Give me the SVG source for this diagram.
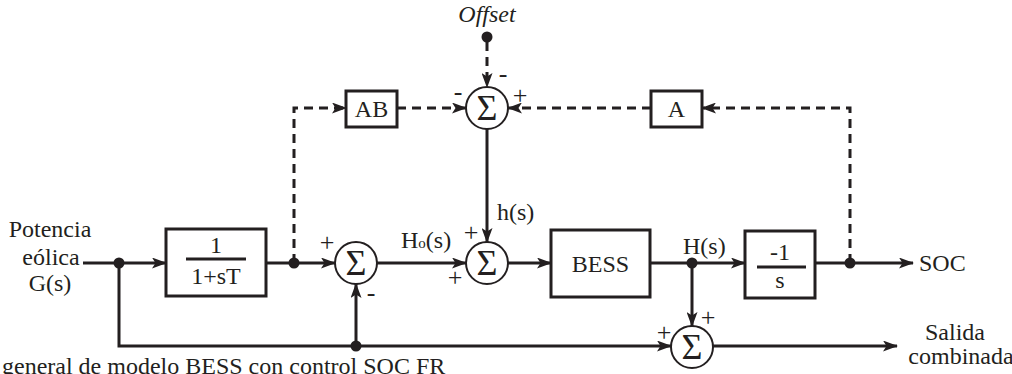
<svg xmlns="http://www.w3.org/2000/svg" width="1012" height="374" viewBox="0 0 1012 374" font-family="'Liberation Serif', 'Times New Roman', 'DejaVu Serif', serif">
<defs>
<marker id="ah" markerUnits="userSpaceOnUse" markerWidth="15" markerHeight="11" refX="14" refY="5.5" orient="auto">
<path d="M0,0 L15,5.5 L0,11 L3.5,5.5 z" fill="#231f20"/>
</marker>
</defs>
<style>
text{font-family:'Liberation Serif','Times New Roman','DejaVu Serif',serif;fill:#231f20;font-size:24px}
.m{text-anchor:middle}
.sig{font-size:36px;text-anchor:middle}
.sg{font-size:26px;text-anchor:middle}
.box{fill:#fff;stroke:#231f20;stroke-width:3}
.sum{fill:#fff;stroke:#231f20;stroke-width:2}
.ln{fill:none;stroke:#231f20;stroke-width:3}
.ds{fill:none;stroke:#231f20;stroke-width:3;stroke-dasharray:9 6}
.dot{fill:#231f20}
.fr{stroke:#231f20;stroke-width:3}
</style>
<rect width="1012" height="374" fill="#fff"/>

<g id="connectors">
<path class="ln" d="M83,263 H166" marker-end="url(#ah)"/>
<path class="ln" d="M119,263 V346 H671" marker-end="url(#ah)"/>
<path class="ln" d="M356,346 V284" marker-end="url(#ah)"/>
<path class="ln" d="M266,263 H335" marker-end="url(#ah)"/>
<path class="ds" d="M294,263 V108 H346" marker-end="url(#ah)"/>
<path class="ds" d="M397,108 H466" marker-end="url(#ah)"/>
<path class="ds" d="M487,42 V87" marker-end="url(#ah)"/>
<path class="ds" d="M651,108 H508" marker-end="url(#ah)"/>
<path class="ds" d="M850,263 V108 H702" marker-end="url(#ah)"/>
<path class="ln" d="M487,129 V242" marker-end="url(#ah)"/>
<path class="ln" d="M377,263 H466" marker-end="url(#ah)"/>
<path class="ln" d="M508,263 H551" marker-end="url(#ah)"/>
<path class="ln" d="M650,263 H745" marker-end="url(#ah)"/>
<path class="ln" d="M692,263 V326" marker-end="url(#ah)"/>
<path class="ln" d="M815,263 H913" marker-end="url(#ah)"/>
<path class="ln" d="M713,346 H897" marker-end="url(#ah)"/>
<circle class="dot" cx="119" cy="263" r="5.5"/>
<circle class="dot" cx="356" cy="346" r="5.5"/>
<circle class="dot" cx="294" cy="263" r="5.5"/>
<circle class="dot" cx="487" cy="37" r="5.5"/>
<circle class="dot" cx="692" cy="263" r="5.5"/>
<circle class="dot" cx="850" cy="263" r="5.5"/>
</g>

<g id="input">
<text class="m" x="50" y="237">Potencia</text>
<text class="m" x="51" y="265">eólica</text>
<text class="m" x="50" y="291">G(s)</text>
</g>

<g id="lowpass">
<rect class="box" x="166" y="229" width="100" height="67"/>
<text class="m" x="216" y="253">1</text>
<line class="fr" x1="186" y1="259" x2="246" y2="259"/>
<text class="m" x="216" y="284">1+sT</text>
</g>

<g id="sum1">
<circle class="sum" cx="356" cy="263" r="21"/>
<text class="sig" x="356" y="275">Σ</text>
<text class="sg" x="327" y="251">+</text>
<text class="sg" x="371" y="301">-</text>
</g>

<g id="offset">
<text x="487" y="22" class="m" font-style="italic">Offset</text>
</g>

<g id="ab">
<rect class="box" x="346" y="91" width="51" height="36"/>
<text class="m" x="371.5" y="117">AB</text>
</g>

<g id="sum2">
<circle class="sum" cx="487" cy="108" r="21"/>
<text class="sig" x="487" y="120">Σ</text>
<text class="sg" x="458" y="100">-</text>
<text class="sg" x="503" y="82">-</text>
<text class="sg" x="520" y="104">+</text>
</g>

<g id="a">
<rect class="box" x="651" y="91" width="51" height="36"/>
<text class="m" x="676.5" y="117">A</text>
</g>

<g id="sum4">
<circle class="sum" cx="487" cy="263" r="21"/>
<text class="sig" x="487" y="275">Σ</text>
<text class="sg" x="471" y="241">+</text>
<text class="sg" x="455" y="286">+</text>
<text x="497" y="220">h(s)</text>
<text x="401" y="248">H<tspan font-size="15">o</tspan>(s)</text>
</g>

<g id="bess">
<rect class="box" x="551" y="230" width="99" height="67"/>
<text class="m" x="600.5" y="272">BESS</text>
<text x="683" y="254">H(s)</text>
</g>

<g id="integrator">
<rect class="box" x="745" y="231" width="70" height="67"/>
<text class="m" x="780" y="260">-1</text>
<line class="fr" x1="757" y1="267" x2="806" y2="267"/>
<text class="m" x="780" y="288">s</text>
</g>

<g id="soc">
<text x="919" y="271">SOC</text>
</g>

<g id="sum3">
<circle class="sum" cx="692" cy="347" r="21"/>
<text class="sig" x="692" y="359">Σ</text>
<text class="sg" x="708" y="326">+</text>
<text class="sg" x="664" y="341">+</text>
</g>

<g id="output">
<text class="m" x="955" y="340">Salida</text>
<text class="m" x="961" y="364" font-size="22.5">combinada</text>
</g>

<text x="2" y="374">general de modelo BESS con control SOC FR</text>
</svg>
